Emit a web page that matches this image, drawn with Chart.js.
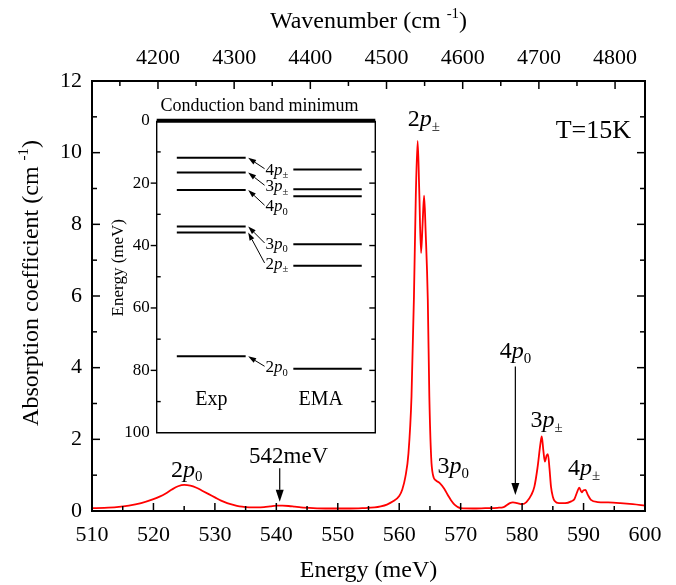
<!DOCTYPE html>
<html>
<head>
<meta charset="utf-8">
<script src="https://cdn.jsdelivr.net/npm/chart.js@4.4.1/dist/chart.umd.min.js"></script>
<style>
  html, body { margin: 0; padding: 0; background: #fff; }
  #wrap { position: relative; width: 676px; height: 585px; }
  #main { position: absolute; left: 0; top: 0; }
  #inset { position: absolute; left: 100px; top: 88px; }
</style>
</head>
<body>
<div id="wrap">
  <canvas id="main" width="676" height="585"></canvas>
  <canvas id="inset" width="290" height="362"></canvas>
</div>
<script>
// absorption spectrum
const energy = [510, 512, 514, 516, 518, 520, 521, 522, 523, 524, 525, 526, 527, 528, 529, 530,
  531, 532, 533, 534, 535, 536, 537, 538, 539, 540, 541, 542, 543, 544, 546, 548, 550, 552, 554,
  556, 557, 558, 559, 560, 560.5, 561, 561.5, 562, 562.4, 562.7, 563.0, 563.25, 563.55, 563.8,
  564.05, 564.3, 564.65, 564.9, 565.2, 565.5, 566.0, 566.6, 567.3, 568.0, 568.4, 569.0, 570,
  572, 574, 576, 577, 578, 578.5, 579.2, 580, 580.7, 581.5, 582, 582.5, 583.0, 583.2, 583.45,
  583.7, 584.0, 584.2, 584.45, 584.7, 585.0, 585.3, 586, 587, 588, 588.5, 589.0, 589.3, 589.7,
  590.0, 590.3, 590.7, 591.2, 592.3, 594, 596, 598, 600];
const absorption = [0.08, 0.09, 0.11, 0.15, 0.22, 0.33, 0.40, 0.49, 0.60, 0.69, 0.73, 0.71, 0.65, 0.56, 0.47, 0.38,
  0.29, 0.22, 0.17, 0.13, 0.11, 0.10, 0.10, 0.11, 0.13, 0.15, 0.15, 0.14, 0.12, 0.10, 0.08, 0.07, 0.07, 0.07, 0.08,
  0.10, 0.13, 0.18, 0.27, 0.42, 0.6, 0.95, 1.6, 3.2, 6.0, 8.8, 10.33, 9.0, 7.2, 8.0,
  8.8, 7.8, 5.9, 3.2, 1.5, 1.0, 0.85, 0.78, 0.63, 0.42, 0.31, 0.18, 0.08,
  0.07, 0.08, 0.09, 0.11, 0.22, 0.24, 0.22, 0.19, 0.25, 0.45, 0.68, 1.2, 1.9, 2.08, 1.7,
  1.38, 1.55, 1.59, 1.2, 0.68, 0.40, 0.28, 0.22, 0.22, 0.27, 0.33, 0.55, 0.65, 0.52,
  0.58, 0.59, 0.45, 0.31, 0.25, 0.24, 0.22, 0.19, 0.15];

const energyTicks = [510, 520, 530, 540, 550, 560, 570, 580, 590, 600];
const absTicks = [0, 2, 4, 6, 8, 10, 12];
const wavenumberTicks = [4200, 4300, 4400, 4500, 4600, 4700, 4800];
const MEV_TO_CM = 8.0655;

// inset: binding energies (meV) of the levels
const levelNames = ['4p±', '3p±', '4p0', '3p0', '2p±', '2p0'];
const expLevels = [11.9, 16.6, 22.2, 33.9, 35.8, 75.5];
const emaLevels = [15.6, 22.0, 24.2, 39.6, 46.5, 79.5];
const insetTicks = [0, 20, 40, 60, 80, 100];
const cbmLevel = 0;

const SERIF = '"Liberation Serif", "Times New Roman", serif';
const plain = v => String(v);

// "2p±" -> 2, italic p, subscript ±
function richName(name) {
  return [{ t: name[0] }, { t: 'p', it: true }, { t: name.slice(2), sub: true }];
}

function drawRich(ctx, parts, x, y, size, align) {
  let w = 0;
  const items = parts.map(p => {
    const s = (p.sub || p.sup) ? size * 0.62 : size;
    const font = (p.it ? 'italic ' : '') + s + 'px ' + SERIF;
    ctx.font = font;
    const m = ctx.measureText(p.t).width;
    w += m;
    return { p, font, m };
  });
  let cx = align === 'center' ? x - w / 2 : align === 'right' ? x - w : x;
  ctx.textAlign = 'left';
  ctx.textBaseline = 'alphabetic';
  items.forEach(it => {
    ctx.font = it.font;
    const dy = it.p.sub ? size * 0.2 : it.p.sup ? -size * 0.4 : 0;
    ctx.fillText(it.p.t, cx, y + dy);
    cx += it.m;
  });
  return w;
}

function arrow(ctx, x0, y0, x1, y1, head, hw) {
  const a = Math.atan2(y1 - y0, x1 - x0);
  const bx = x1 - head * Math.cos(a), by = y1 - head * Math.sin(a);
  ctx.beginPath();
  ctx.moveTo(x0, y0);
  ctx.lineTo(bx, by);
  ctx.stroke();
  ctx.beginPath();
  ctx.moveTo(x1, y1);
  ctx.lineTo(bx + hw * Math.sin(a), by - hw * Math.cos(a));
  ctx.lineTo(bx - hw * Math.sin(a), by + hw * Math.cos(a));
  ctx.closePath();
  ctx.fill();
}

function midpoints(ticks) {
  const out = [];
  for (let i = 0; i < ticks.length - 1; i++) out.push((ticks[i] + ticks[i + 1]) / 2);
  return out;
}

// frame, inward ticks, titles and peak notes of the main plot
const mainDecor = {
  id: 'mainDecor',
  afterDatasetsDraw(chart) {
    const { ctx, chartArea: a, scales } = chart;
    const x = scales.x, x2 = scales.x2, y = scales.y;
    ctx.save();
    ctx.strokeStyle = '#000';
    ctx.fillStyle = '#000';
    ctx.lineWidth = 1.5;

    const tick = (px, py, dx, dy) => {
      ctx.beginPath(); ctx.moveTo(px, py); ctx.lineTo(px + dx, py + dy); ctx.stroke();
    };
    energyTicks.forEach(v => tick(x.getPixelForValue(v), a.bottom, 0, -8));
    midpoints(energyTicks).forEach(v => tick(x.getPixelForValue(v), a.bottom, 0, -5));
    const wnMinor = [wavenumberTicks[0] - 50].concat(midpoints(wavenumberTicks));
    wavenumberTicks.forEach(v => tick(x2.getPixelForValue(v), a.top, 0, 8));
    wnMinor.forEach(v => tick(x2.getPixelForValue(v), a.top, 0, 5));
    absTicks.forEach(v => {
      tick(a.left, y.getPixelForValue(v), 8, 0);
      tick(a.right, y.getPixelForValue(v), -8, 0);
    });
    midpoints(absTicks).forEach(v => {
      tick(a.left, y.getPixelForValue(v), 5, 0);
      tick(a.right, y.getPixelForValue(v), -5, 0);
    });

    ctx.lineWidth = 2;
    ctx.strokeRect(a.left, a.top, a.right - a.left, a.bottom - a.top);

    // axis titles
    const cx = (a.left + a.right) / 2;
    drawRich(ctx, [{ t: 'Energy (meV)' }], cx, 577, 24, 'center');
    drawRich(ctx, [{ t: 'Wavenumber (cm ' }, { t: '-1', sup: true }, { t: ')' }], cx, 28, 24, 'center');
    ctx.save();
    ctx.translate(38, 283);
    ctx.rotate(-Math.PI / 2);
    drawRich(ctx, [{ t: 'Absorption coefficient (cm ' }, { t: '-1', sup: true }, { t: ')' }], 0, 0, 24, 'center');
    ctx.restore();

    // peak assignments
    const notes = [
      { name: '2p±', e: 564.0, v: 10.75 },
      { name: '3p0', e: 568.8, v: 1.05 },
      { name: '4p0', e: 578.9, v: 4.26 },
      { name: '3p±', e: 584.0, v: 2.35 },
      { name: '4p±', e: 590.1, v: 1.0 },
      { name: '2p0', e: 525.4, v: 0.96 }
    ];
    notes.forEach(n => drawRich(ctx, richName(n.name), x.getPixelForValue(n.e), y.getPixelForValue(n.v), 24, 'center'));
    drawRich(ctx, [{ t: '542meV' }], x.getPixelForValue(542.0), y.getPixelForValue(1.33), 23, 'center');
    drawRich(ctx, [{ t: 'T=15K' }], x.getPixelForValue(591.6), y.getPixelForValue(10.4), 26, 'center');

    ctx.lineWidth = 1.2;
    [{ e: 578.9, from: 4.03, to: 0.45 }, { e: 540.55, from: 1.19, to: 0.26 }].forEach(r => {
      const px = x.getPixelForValue(r.e);
      arrow(ctx, px, y.getPixelForValue(r.from), px, y.getPixelForValue(r.to), 12, 4);
    });
    ctx.restore();
  }
};

new Chart(document.getElementById('main'), {
  type: 'line',
  data: {
    datasets: [{
      data: energy.map((e, i) => ({ x: e, y: absorption[i] })),
      borderColor: '#ff0000',
      borderWidth: 1.8,
      pointRadius: 0,
      fill: false,
      cubicInterpolationMode: 'monotone'
    }]
  },
  options: {
    responsive: false,
    animation: false,
    events: [],
    layout: { padding: { left: 0, right: 31, top: 0, bottom: 0 } },
    plugins: { legend: { display: false }, tooltip: { enabled: false } },
    scales: {
      x: {
        type: 'linear', position: 'bottom', min: 510, max: 600,
        afterBuildTicks: s => { s.ticks = energyTicks.map(v => ({ value: v })); },
        ticks: { color: '#000', font: { family: SERIF, size: 22 }, padding: 11, maxRotation: 0, autoSkip: false, callback: plain },
        grid: { display: false, drawTicks: false },
        border: { display: false },
        afterFit: s => { s.height = 74; }
      },
      x2: {
        type: 'linear', position: 'top', min: 510 * MEV_TO_CM, max: 600 * MEV_TO_CM,
        afterBuildTicks: s => { s.ticks = wavenumberTicks.map(v => ({ value: v })); },
        ticks: { color: '#000', font: { family: SERIF, size: 22 }, padding: 10, maxRotation: 0, autoSkip: false, callback: plain },
        grid: { display: false, drawTicks: false },
        border: { display: false },
        afterFit: s => { s.height = 81; }
      },
      y: {
        type: 'linear', min: 0, max: 12,
        afterBuildTicks: s => { s.ticks = absTicks.map(v => ({ value: v })); },
        ticks: { color: '#000', font: { family: SERIF, size: 22 }, padding: 10, callback: plain },
        grid: { display: false, drawTicks: false },
        border: { display: false },
        afterFit: s => { s.width = 92; }
      }
    }
  },
  plugins: [mainDecor]
});

// ---------- inset: level scheme ----------
const EXP_X = [0.092, 0.407];
const EMA_X = [0.625, 0.938];
const LABEL_X = 0.498;
const labelBase = [17.3, 22.6, 29.0, 41.1, 47.5, 80.6];

function levelLine(v, xs, width) {
  return {
    data: [{ x: xs[0], y: v }, { x: xs[1], y: v }],
    borderColor: '#000', borderWidth: width, pointRadius: 0, clip: false
  };
}

const insetDecor = {
  id: 'insetDecor',
  afterDatasetsDraw(chart) {
    const { ctx, chartArea: a, scales } = chart;
    const x = scales.x, y = scales.y;
    ctx.save();
    ctx.strokeStyle = '#000';
    ctx.fillStyle = '#000';
    ctx.lineWidth = 1.4;
    ctx.beginPath();
    ctx.moveTo(a.left, a.top); ctx.lineTo(a.left, a.bottom);
    ctx.lineTo(a.right, a.bottom); ctx.lineTo(a.right, a.top);
    ctx.stroke();

    const tick = (px, py, dx) => {
      ctx.beginPath(); ctx.moveTo(px, py); ctx.lineTo(px + dx, py); ctx.stroke();
    };
    insetTicks.forEach(v => {
      if (v > 0 && v < 100) { tick(a.left, y.getPixelForValue(v), -6); tick(a.right, y.getPixelForValue(v), -6); }
    });
    midpoints(insetTicks).forEach(v => {
      tick(a.left, y.getPixelForValue(v), 4); tick(a.right, y.getPixelForValue(v), -4);
    });

    drawRich(ctx, [{ t: 'Conduction band minimum' }], x.getPixelForValue(0.47), a.top - 10, 18, 'center');
    drawRich(ctx, [{ t: 'Exp' }], x.getPixelForValue(0.25), y.getPixelForValue(91.2), 20, 'center');
    drawRich(ctx, [{ t: 'EMA' }], x.getPixelForValue(0.75), y.getPixelForValue(91.2), 20, 'center');

    ctx.save();
    ctx.translate(a.left - 34, y.getPixelForValue(47.1));
    ctx.rotate(-Math.PI / 2);
    drawRich(ctx, [{ t: 'Energy (meV)' }], 0, 0, 17, 'center');
    ctx.restore();

    ctx.lineWidth = 1;
    const lx = x.getPixelForValue(LABEL_X);
    levelNames.forEach((n, i) => {
      const by = y.getPixelForValue(labelBase[i]);
      drawRich(ctx, richName(n), lx, by, 17, 'left');
      arrow(ctx, lx - 1, by - 6, x.getPixelForValue(EXP_X[1]) + 2.5, y.getPixelForValue(expLevels[i]), 8, 2.6);
    });
    ctx.restore();
  }
};

new Chart(document.getElementById('inset'), {
  type: 'line',
  data: {
    datasets: [levelLine(cbmLevel, [0, 1], 4)]
      .concat(expLevels.map(v => levelLine(v, EXP_X, 2)))
      .concat(emaLevels.map(v => levelLine(v, EMA_X, 2)))
  },
  options: {
    responsive: false,
    animation: false,
    events: [],
    layout: { padding: { left: 0, top: 32.7, right: 14.7, bottom: 15 } },
    plugins: { legend: { display: false }, tooltip: { enabled: false } },
    scales: {
      x: { type: 'linear', min: 0, max: 1, display: false },
      y: {
        type: 'linear', min: 0, max: 100, reverse: true,
        afterBuildTicks: s => { s.ticks = insetTicks.map(v => ({ value: v })); },
        ticks: { color: '#000', font: { family: SERIF, size: 17 }, padding: 7, callback: plain },
        grid: { display: false, drawTicks: false },
        border: { display: false },
        afterFit: s => { s.width = 56.7; }
      }
    }
  },
  plugins: [insetDecor]
});
</script>
</body>
</html>
